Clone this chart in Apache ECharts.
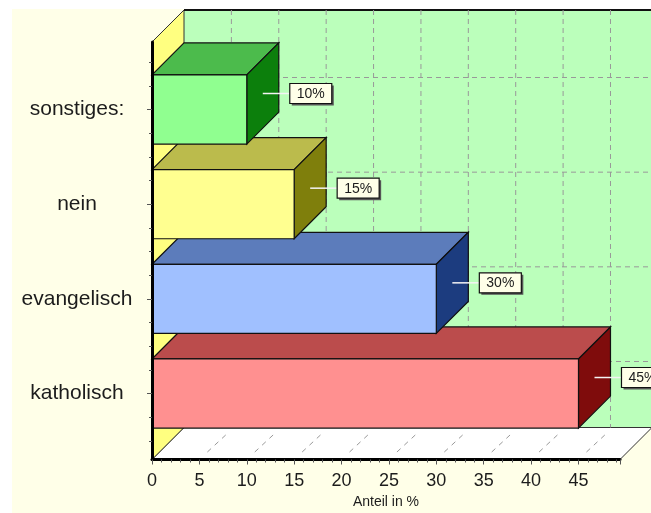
<!DOCTYPE html>
<html>
<head>
<meta charset="utf-8">
<style>html,body{margin:0;padding:0;background:#fff}#chart{width:651px;height:513px}</style>
<script src="https://cdn.jsdelivr.net/npm/echarts@6/dist/echarts.min.js"></script>
</head>
<body>
<div id="chart"></div>
<script>
// Answers, listed from the front (bottom) row to the back (top) row
const categories = ['katholisch', 'evangelisch', 'nein', 'sonstiges:'];
const shares = [45, 30, 15, 10];
const frontColors = ['#ff9090', '#a0c0ff', '#ffff90', '#90ff90'];
const topColors = ['#bb4c4c', '#5c7cbb', '#bbbb4c', '#4cbb4c'];
const sideColors = ['#7f0c0c', '#1c3c7f', '#7f7f0c', '#0c7f0c'];

const xGridValues = [5, 10, 15, 20, 25, 30, 35, 40, 45];
const rowTicks = [0, 1, 2, 3];
const rowMinorTicks = [-0.5, -0.25, 0.25, 0.5, 0.75, 1.25, 1.5, 1.75, 2.25, 2.5, 2.75, 3.25, 3.5];

const xMax = 49.38, rowMin = -0.697, rowMax = 3.713;
const depth = 32;            // pixel offset of the back plane
const barShare = 0.73;       // bar thickness as a fraction of a row
const FONT = '"Liberation Sans", Arial, sans-serif';
const INK = '#1c1c1c';

function line(x1, y1, x2, y2, style) {
  return { type: 'line', shape: { x1, y1, x2, y2 }, style: Object.assign({ fill: null }, style) };
}
function poly(points, fill, stroke, lineWidth) {
  return { type: 'polygon', shape: { points }, style: { fill, stroke, lineWidth: lineWidth || 1 } };
}

// Back wall, side wall, floor and their dashed grid
function renderRoom(params, api) {
  const [x0, yBot] = api.coord([0, rowMin]);
  const [x1, yTop] = api.coord([xMax, rowMax]);
  const d = depth;
  const kids = [
    poly([[x0 + d, yTop - d], [x1 + d, yTop - d], [x1 + d, yBot - d], [x0 + d, yBot - d]], '#bbffbb', null),
    poly([[x0, yBot], [x0 + d, yBot - d], [x1 + d, yBot - d], [x1, yBot]], '#ffffff', '#333', 1),
    poly([[x0, yTop], [x0 + d, yTop - d], [x0 + d, yBot - d], [x0, yBot]], '#ffff80', '#333', 1),
    line(x0 + d, yTop - d, x1 + d, yTop - d, { stroke: '#111', lineWidth: 2 })
  ];
  xGridValues.forEach(v => {
    const x = api.coord([v, 0])[0];
    kids.push(line(x + d, yTop - d, x + d, yBot - d, { stroke: '#999', lineWidth: 1, lineDash: [5, 4] }));
    kids.push(line(x + 8, yBot - 7.5, x + 29, yBot - 27, { stroke: '#999', lineWidth: 1, lineDash: [5, 5] }));
  });
  rowTicks.forEach(r => {
    const y = api.coord([0, r])[1] - d;
    kids.push(line(x0 + d, y, x1 + d, y, { stroke: '#999', lineWidth: 1, lineDash: [5, 4] }));
  });
  return { type: 'group', children: kids };
}

// One extruded bar per row; rows further up overlap the tops of those below
function renderBar(params, api) {
  const i = params.dataIndex;
  const [xs, yc] = api.coord([0, i]);
  const xe = api.coord([api.value(0), i])[0];
  const h = api.size([0, 1])[1] * barShare;
  const t = yc - h / 2, b = yc + h / 2, d = depth;
  const edge = '#111';
  return {
    type: 'group',
    children: [
      poly([[xs, t], [xs + d, t - d], [xe + d, t - d], [xe, t]], topColors[i], edge, 1.2),
      poly([[xe, t], [xe + d, t - d], [xe + d, b - d], [xe, b]], sideColors[i], edge, 1.2),
      poly([[xs, t], [xe, t], [xe, b], [xs, b]], frontColors[i], edge, 1.2)
    ]
  };
}

// Value tag with its leader line, anchored on the bar's side face
function renderTag(params, api) {
  const i = params.dataIndex;
  const v = api.value(0);
  const [xe, yc] = api.coord([v, i]);
  const ly = yc - 16;
  const bx = xe + 43, by = yc - 26, bw = 42, bh = 20;
  return {
    type: 'group',
    children: [
      line(xe + 16, ly, bx, ly, { stroke: '#f4f4f4', lineWidth: 1.5 }),
      { type: 'rect', shape: { x: bx + 2, y: by + 2, width: bw, height: bh }, style: { fill: '#555' } },
      { type: 'rect', shape: { x: bx, y: by, width: bw, height: bh }, style: { fill: '#ffffe8', stroke: '#111', lineWidth: 1.2 } },
      { type: 'text', style: { x: bx + bw / 2, y: by + bh / 2 + 0.5, text: v + '%', fill: INK, font: '14px ' + FONT, align: 'center', verticalAlign: 'middle' } }
    ]
  };
}

const sharedY = { type: 'value', min: rowMin, max: rowMax, z: 10, splitLine: { show: false } };

const chart = echarts.init(document.getElementById('chart'), null, { renderer: 'canvas' });
chart.setOption({
  animation: false,
  backgroundColor: '#ffffff',
  graphic: [
    { type: 'rect', silent: true, z: -10, shape: { x: 12, y: 9, width: 639, height: 504 }, style: { fill: '#ffffe8' } },
    // Margin strip that trims the rotated axis title
    { type: 'rect', silent: true, z: 100, shape: { x: 0, y: 0, width: 12, height: 513 }, style: { fill: '#ffffff' } }
  ],
  grid: { left: 152, top: 42, width: 468, height: 417.5, outerBoundsMode: 'none' },
  xAxis: {
    type: 'value', min: 0, max: xMax, interval: 5, z: 10,
    splitLine: { show: false },
    axisLine: { show: true, onZero: false, lineStyle: { color: '#000', width: 3 } },
    axisTick: { show: true, length: 5, lineStyle: { color: '#555', width: 1 } },
    minorTick: { show: true, splitNumber: 5, length: 3, lineStyle: { color: '#555', width: 1 } },
    axisLabel: { show: true, fontFamily: FONT, fontSize: 18, color: INK, margin: 13, showMaxLabel: false },
    name: 'Anteil in %', nameLocation: 'center', nameGap: 36,
    nameTextStyle: { fontFamily: FONT, fontSize: 14, color: INK }
  },
  yAxis: [
    Object.assign({}, sharedY, {
      axisLine: { show: true, onZero: false, lineStyle: { color: '#000', width: 3 } },
      axisTick: { show: true, customValues: rowTicks, length: 5, lineStyle: { color: '#555', width: 1 } },
      axisLabel: {
        show: true, customValues: rowTicks, formatter: v => categories[v],
        fontFamily: FONT, fontSize: 21, color: INK, align: 'center', margin: 75
      },
      name: 'N [20]', nameLocation: 'center', nameGap: 140, nameRotate: 90,
      nameTextStyle: { fontFamily: FONT, fontSize: 14, color: INK }
    }),
    Object.assign({}, sharedY, {
      position: 'left',
      axisLine: { show: false, onZero: false },
      axisTick: { show: true, customValues: rowMinorTicks, length: 3, lineStyle: { color: '#555', width: 1 } },
      axisLabel: { show: false }
    })
  ],
  series: [
    { type: 'custom', name: 'room', clip: false, z: 1, renderItem: renderRoom, data: [[0, 0]], silent: true },
    { type: 'custom', name: 'bars', clip: false, z: 2, renderItem: renderBar, encode: { x: 0, y: 1 },
      data: shares.map((v, i) => [v, i]), silent: true },
    { type: 'custom', name: 'tags', clip: false, z: 3, renderItem: renderTag, encode: { x: 0, y: 1 },
      data: shares.map((v, i) => [v, i]), silent: true }
  ]
});
</script>
</body>
</html>
